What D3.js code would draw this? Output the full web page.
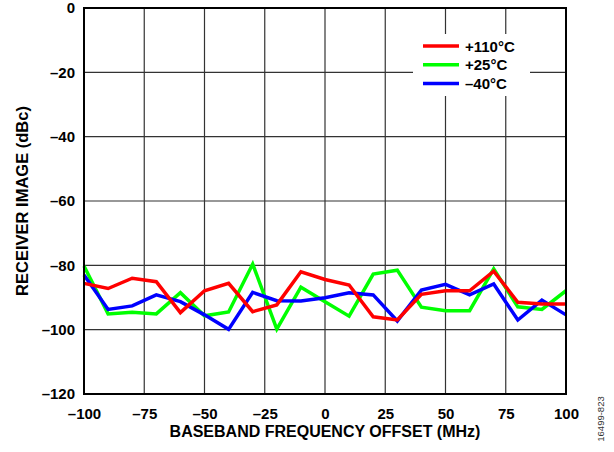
<!DOCTYPE html>
<html><head><meta charset="utf-8">
<script src="https://cdn.jsdelivr.net/npm/d3@7"></script>
<style>body{margin:0;background:#fff}svg{display:block}text{font-family:Arial,"Liberation Sans",sans-serif}</style>
</head><body>
<svg id="c" width="614" height="452"></svg>
<script>
const freqs = [-100,-90,-80,-70,-60,-50,-40,-30,-20,-10,0,10,20,30,40,50,60,70,80,90,100];
const red110 = [-85.6,-87.2,-84.0,-85.1,-94.7,-87.9,-85.6,-94.4,-92.3,-82.0,-84.4,-86.1,-96.0,-97.0,-89.0,-87.9,-87.9,-81.8,-91.5,-92.0,-92.0];
const green25 = [-80.2,-95.1,-94.6,-95.1,-88.5,-95.7,-94.5,-79.6,-99.8,-86.8,-91.3,-95.8,-82.7,-81.5,-93.0,-94.1,-94.1,-81.1,-92.9,-93.7,-87.9];
const blue40 = [-83.0,-93.7,-92.6,-89.2,-91.3,-95.4,-99.9,-88.4,-91.0,-91.1,-90.1,-88.5,-89.2,-97.3,-87.7,-85.9,-89.2,-85.8,-97.0,-90.8,-95.4];
const seriesNames = ["+110°C","+25°C","\u201340°C"];
const xTicks = [-100,-75,-50,-25,0,25,50,75,100];
const yTicks = [0,-20,-40,-60,-80,-100,-120];
const fmt = v => v < 0 ? "\u2013" + Math.abs(v) : String(v);

const svg = d3.select("#c");
const L=84, R=566, T=8, B=394;
const x = d3.scaleLinear().domain([-100,100]).range([L,R]);
const y = d3.scaleLinear().domain([-120,0]).range([B,T]);
const FF = "Arial, 'Liberation Sans', sans-serif";

// grid
svg.append("g").selectAll("line").data(xTicks.slice(1,-1)).join("line")
  .attr("x1",d=>x(d)).attr("x2",d=>x(d)).attr("y1",T).attr("y2",B)
  .attr("stroke","#333").attr("stroke-width",1.2);
svg.append("g").selectAll("line").data(yTicks.slice(1,-1)).join("line")
  .attr("x1",L).attr("x2",R).attr("y1",d=>y(d)).attr("y2",d=>y(d))
  .attr("stroke","#333").attr("stroke-width",1.2);

// axes labels
const xa = d3.axisBottom(x).tickValues(xTicks).tickSize(0).tickPadding(14).tickFormat(fmt);
const gx = svg.append("g").attr("transform",`translate(0,${B})`).call(xa);
gx.select(".domain").remove();
gx.selectAll("text").attr("font-size",15).attr("font-weight","bold").attr("fill","#000")
  .attr("font-family",FF);
const ya = d3.axisLeft(y).tickValues(yTicks).tickSize(0).tickPadding(9).tickFormat(fmt);
const gy = svg.append("g").attr("transform",`translate(${L},0)`).call(ya);
gy.select(".domain").remove();
gy.selectAll("text").attr("font-size",15).attr("font-weight","bold").attr("fill","#000")
  .attr("font-family",FF);

// legend background
svg.append("rect").attr("x",413).attr("y",34).attr("width",117).attr("height",62).attr("fill","#fff");

// lines
const series = [
  {name:seriesNames[1], vals:green25, color:"#00ff00"},
  {name:seriesNames[2], vals:blue40, color:"#0000ff"},
  {name:seriesNames[0], vals:red110, color:"#ff0000"}
];
const line = d3.line().x((d,i)=>x(freqs[i])).y(d=>y(d));
series.forEach(s=>{
  svg.append("path").attr("d",line(s.vals)).attr("fill","none")
    .attr("stroke",s.color).attr("stroke-width",3.5).attr("stroke-linejoin","miter");
});

// frame
svg.append("rect").attr("x",L).attr("y",T).attr("width",R-L).attr("height",B-T)
  .attr("fill","none").attr("stroke","#000").attr("stroke-width",2);

// legend
const leg = [
  {name:seriesNames[0], color:"#ff0000"},
  {name:seriesNames[1], color:"#00ff00"},
  {name:seriesNames[2], color:"#0000ff"}
];
leg.forEach((l,i)=>{
  const yy = 46 + i*18.7;
  svg.append("line").attr("x1",423).attr("x2",459).attr("y1",yy).attr("y2",yy)
    .attr("stroke",l.color).attr("stroke-width",3.5);
  svg.append("text").attr("x",465).attr("y",yy+5.5).attr("font-size",15).attr("font-weight","bold")
    .text(l.name);
});

// titles
svg.append("text").attr("x",(L+R)/2).attr("y",437).attr("text-anchor","middle")
  .attr("font-size",16).attr("font-weight","bold").text("BASEBAND FREQUENCY OFFSET (MHz)");
svg.append("text").attr("transform",`translate(27.5,201) rotate(-90)`).attr("text-anchor","middle")
  .attr("font-size",16.5).attr("font-weight","bold").text("RECEIVER IMAGE (dBc)");
svg.append("text").attr("transform",`translate(604,419) rotate(-90)`).attr("text-anchor","middle")
  .attr("font-size",9.5).attr("fill","#333").text("16499-823");
</script>
</body></html>
